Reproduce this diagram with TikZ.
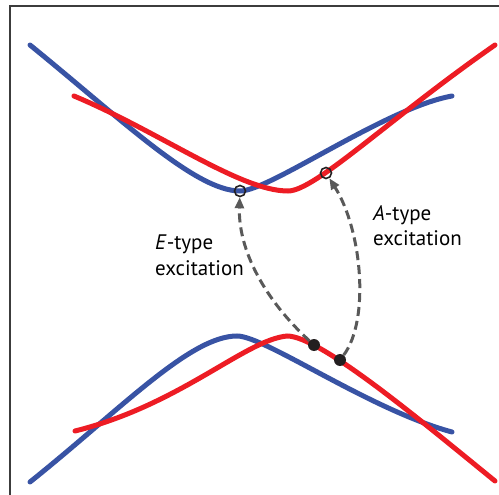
\documentclass[tikz,border=0pt]{standalone}
\usepackage{fontspec}
\setsansfont{PT Sans}
\usetikzlibrary{arrows.meta}
\definecolor{curveblue}{RGB}{56,83,164}
\definecolor{curvered}{RGB}{237,28,36}
\definecolor{arrowgray}{RGB}{89,89,89}
\definecolor{dotblack}{RGB}{35,31,32}
\definecolor{framegray}{RGB}{60,60,60}

\begin{document}
\begin{tikzpicture}[
		x=1pt, y=-1pt,
		every node/.style={font=\sffamily},
		bluecurve/.style={draw=curveblue, line width=5pt, line cap=round},
		redcurve/.style={draw=curvered, line width=5pt, line cap=round},
		opendot/.style={circle, draw=dotblack, line width=1.6pt, minimum size=11pt, inner sep=0pt},
		fulldot/.style={circle, fill=dotblack, minimum size=12pt, inner sep=0pt},
		exarrow/.style={draw=arrowgray, line width=3pt, dash pattern=on 9pt off 5pt,
			-{Triangle[length=11pt, width=9pt]}},
		textlabel/.style={align=left, inner sep=0pt, anchor=base west,
			font=\sffamily\fontsize{21}{25}\selectfont}
	]
	\useasboundingbox (0,0) rectangle (499,495);

	% Frame (only top and left edge show)
	\draw[framegray, line width=1.5pt] (10,496) -- (10,6) -- (500,6);

	% Upper surfaces
	\draw[bluecurve] (30,45) .. controls (120,118) and (195,191) .. (240,191)
		.. controls (270,191) and (385,108) .. (452,96);
	\draw[redcurve] (74,96) .. controls (160,132) and (240,191) .. (288,191)
		.. controls (315,191) and (390,118) .. (495,45);

	% Lower surfaces
	\draw[bluecurve] (30,482) .. controls (120,410) and (190,336) .. (237,336)
		.. controls (265,336) and (370,410) .. (452,432);
	\draw[redcurve] (75,431) .. controls (180,405) and (245,340) .. (287,336)
		.. controls (320,336) and (420,420) .. (495,481);

	% Start and end points
	\node[fulldot] (elow) at (314,345) {};
	\node[fulldot] (alow) at (340,360) {};
	\node[opendot] (eup) at (240,191) {};
	\node[opendot] (aup) at (326,173) {};

	% Excitations
	\draw[exarrow] (elow) .. controls (265,300) and (238,250) .. (eup);
	\draw[exarrow] (alow) .. controls (370,320) and (362,230) .. (aup);

	\node[textlabel] (elabel) at (155,275) {\textit{E}-type\\excitation};
	\node[textlabel] (alabel) at (373,245) {\textit{A}-type\\excitation};

\end{tikzpicture}
\end{document}
